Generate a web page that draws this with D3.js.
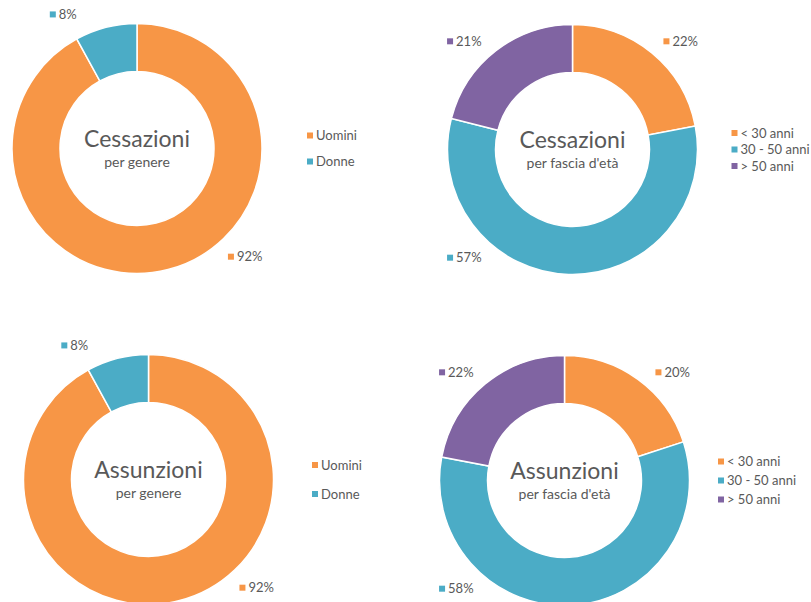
<!DOCTYPE html>
<html>
<head>
<meta charset="utf-8">
<script src="https://cdn.jsdelivr.net/npm/d3@7"></script>
<style>
  body { margin: 0; background: #fff; }
  svg { font-family: Lato, "Open Sans", sans-serif; }
  .title { fill: #595959; }
  .subtitle { fill: #595959; }
  .lbl, .legend text { fill: #595959; }
</style>
</head>
<body>
<svg width="811" height="602"></svg>
<script>
var svg = d3.select("svg");

// data
var genderCats = ["Uomini", "Donne"];
var ageCats = ["< 30 anni", "30 - 50 anni", "> 50 anni"];

var cessGender = [92, 8];
var cessAge = [22, 57, 21];
var assGender = [92, 8];
var assAge = [20, 58, 22];

var color = d3.scaleOrdinal()
  .domain([0, 1, 2])
  .range(["#F79646", "#4BACC6", "#8064A2"]);

// layout of the four doughnuts
var charts = [
  { title: "Cessazioni", sub: "per genere", cats: genderCats, values: cessGender, cx: 137, cy: 148.5, legendX: 170, legendStep: 26 },
  { title: "Cessazioni", sub: "per fascia d'età", cats: ageCats, values: cessAge, cx: 572.5, cy: 149.5, legendX: 159, legendStep: 16.5 },
  { title: "Assunzioni", sub: "per genere", cats: genderCats, values: assGender, cx: 148.5, cy: 479.5, legendX: 163.5, legendStep: 29 },
  { title: "Assunzioni", sub: "per fascia d'età", cats: ageCats, values: assAge, cx: 564.5, cy: 480.5, legendX: 153.5, legendStep: 19 }
];

var outerR = 125, innerR = 77, labelR = 153, sq = 6;

var pie = d3.pie().sort(null).value(function(d) { return d; });
var arc = d3.arc().innerRadius(innerR).outerRadius(outerR);

// label angle: nearest diagonal to slice, kept inside the slice
function labelAngle(d) {
  var mid = (d.startAngle + d.endAngle) / 2 + Math.PI / 18;
  var q = Math.PI / 2;
  var diag = Math.round((mid - q / 2) / q) * q + q / 2;
  return Math.max(d.startAngle, Math.min(d.endAngle, diag));
}

charts.forEach(function(c) {
  var g = svg.append("g")
    .attr("transform", "translate(" + c.cx + "," + c.cy + ")");

  var arcs = pie(c.values);

  g.selectAll("path")
    .data(arcs)
    .enter().append("path")
      .attr("d", arc)
      .attr("fill", function(d) { return color(d.index); })
      .attr("stroke", "#fff")
      .attr("stroke-width", 1.5);

  g.append("text")
    .attr("class", "title")
    .attr("text-anchor", "middle")
    .attr("y", -2)
    .style("font-size", "23px")
    .text(c.title);

  g.append("text")
    .attr("class", "subtitle")
    .attr("text-anchor", "middle")
    .attr("y", 18)
    .style("font-size", "14px")
    .text(c.sub);

  // percentage labels
  var lbl = g.selectAll(".lblg")
    .data(arcs)
    .enter().append("g")
      .attr("class", "lblg");

  lbl.each(function(d) {
    var a = labelAngle(d);
    var x = labelR * Math.sin(a), y = -labelR * Math.cos(a);
    var t = d3.select(this).append("text")
      .attr("class", "lbl")
      .style("font-size", "13px")
      .attr("dy", "0.35em")
      .text(d.data + "%");
    var w = sq + 3 + t.node().getComputedTextLength();
    d3.select(this).insert("rect", "text")
      .attr("x", x - w / 2)
      .attr("y", y - sq / 2)
      .attr("width", sq)
      .attr("height", sq)
      .attr("fill", color(d.index));
    t.attr("x", x - w / 2 + sq + 3).attr("y", y);
  });

  // legend
  var n = c.cats.length;
  var leg = g.append("g")
    .attr("class", "legend")
    .attr("transform", "translate(" + c.legendX + ",0)");

  var items = leg.selectAll("g")
    .data(c.cats)
    .enter().append("g")
      .attr("transform", function(d, i) {
        return "translate(0," + ((i - (n - 1) / 2) * c.legendStep) + ")";
      });

  items.append("rect")
    .attr("x", 0).attr("y", -sq / 2)
    .attr("width", sq).attr("height", sq)
    .attr("fill", function(d, i) { return color(i); });

  items.append("text")
    .attr("x", 9)
    .attr("dy", "0.35em")
    .style("font-size", "13px")
    .text(function(d) { return d; });
});
</script>
</body>
</html>
